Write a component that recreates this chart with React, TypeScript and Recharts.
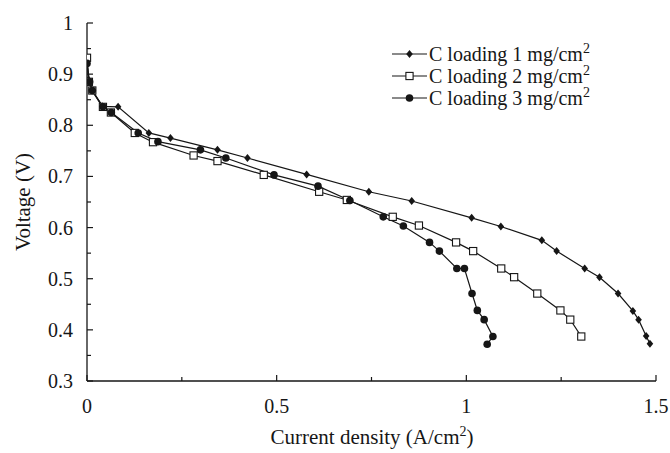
import React from 'react';
import { LineChart, Line, XAxis, YAxis } from 'recharts';

// Polarization curves: current density (A/cm²) vs. cell voltage (V)
const current1 = [0, 0.004, 0.012, 0.04, 0.082, 0.163, 0.22, 0.344, 0.423, 0.579, 0.743, 0.856, 1.014, 1.091, 1.199, 1.238, 1.312, 1.351, 1.4, 1.439, 1.454, 1.474, 1.484];
const voltage1 = [0.925, 0.889, 0.869, 0.837, 0.836, 0.785, 0.775, 0.752, 0.736, 0.704, 0.67, 0.652, 0.619, 0.602, 0.575, 0.554, 0.52, 0.503, 0.471, 0.437, 0.42, 0.388, 0.373];

const current2 = [0, 0.005, 0.014, 0.042, 0.063, 0.126, 0.174, 0.281, 0.344, 0.466, 0.612, 0.685, 0.806, 0.875, 0.973, 1.018, 1.092, 1.126, 1.187, 1.248, 1.274, 1.303];
const voltage2 = [0.932, 0.885, 0.868, 0.836, 0.825, 0.785, 0.767, 0.741, 0.73, 0.703, 0.67, 0.654, 0.621, 0.604, 0.571, 0.554, 0.52, 0.503, 0.471, 0.438, 0.42, 0.387];

const current3 = [0, 0.007, 0.014, 0.042, 0.064, 0.135, 0.187, 0.299, 0.366, 0.493, 0.609, 0.693, 0.781, 0.834, 0.903, 0.929, 0.975, 0.995, 1.015, 1.029, 1.047, 1.07, 1.055];
const voltage3 = [0.921, 0.885, 0.868, 0.836, 0.825, 0.785, 0.768, 0.752, 0.736, 0.703, 0.681, 0.653, 0.621, 0.603, 0.571, 0.554, 0.52, 0.52, 0.471, 0.438, 0.42, 0.387, 0.372];

const xTicks = [0, 0.25, 0.5, 0.75, 1, 1.25, 1.5];
const xLabelTicks = [0, 0.5, 1, 1.5];
const yTicks = [0.3, 0.35, 0.4, 0.45, 0.5, 0.55, 0.6, 0.65, 0.7, 0.75, 0.8, 0.85, 0.9, 0.95, 1];
const yLabelTicks = [0.3, 0.4, 0.5, 0.6, 0.7, 0.8, 0.9, 1];

const seriesNames = ['C loading 1 mg/cm', 'C loading 2 mg/cm', 'C loading 3 mg/cm'];

const toPoints = (xs: number[], ys: number[]) => xs.map((x, i) => ({ x, v: ys[i] }));
const data1 = toPoints(current1, voltage1);
const data2 = toPoints(current2, voltage2);
const data3 = toPoints(current3, voltage3);

const FONT = '"Liberation Serif", "Times New Roman", serif';
const INK = '#161616';
const TICK_FS = 20;
const TITLE_FS = 21;

const DiamondMark = ({ cx, cy }: { cx: number; cy: number }) => (
  <path d={`M${cx},${cy - 4}L${cx + 3.3},${cy}L${cx},${cy + 4}L${cx - 3.3},${cy}Z`} fill={INK} />
);
const SquareMark = ({ cx, cy }: { cx: number; cy: number }) => (
  <rect x={cx - 3.6} y={cy - 3.6} width={7.2} height={7.2} fill="#fff" stroke={INK} strokeWidth={1.1} />
);
const CircleMark = ({ cx, cy }: { cx: number; cy: number }) => (
  <circle cx={cx} cy={cy} r={3.8} fill={INK} />
);

const dotFn = (Mark: any) => (props: any) => {
  const { cx, cy, index } = props;
  if (cx == null || cy == null) return <g key={`d${index}`} />;
  return <Mark key={`d${index}`} cx={cx} cy={cy} />;
};

const isIn = (arr: number[], v: number) => arr.some((a) => Math.abs(a - v) < 1e-6);

const LeftTick = (props: any) => {
  const { x, y, payload } = props;
  const v = payload.value as number;
  const major = isIn(yLabelTicks, v);
  return (
    <g>
      <line x1={x} y1={y} x2={x + (major ? 6 : 4)} y2={y} stroke={INK} strokeWidth={1.2} />
      {major && (
        <text x={x - 14} y={y} textAnchor="end" dominantBaseline="central" fontFamily={FONT} fontSize={TICK_FS} fill={INK}>
          {String(v)}
        </text>
      )}
    </g>
  );
};

const RightTick = (props: any) => {
  const { x, y } = props;
  return <line x1={x} y1={y} x2={x - 3.5} y2={y} stroke={INK} strokeWidth={1.2} />;
};

const BottomTick = (props: any) => {
  const { x, y, payload } = props;
  const v = payload.value as number;
  const major = isIn(xLabelTicks, v);
  return (
    <g>
      <line x1={x} y1={y} x2={x} y2={y - (major ? 6 : 4)} stroke={INK} strokeWidth={1.2} />
      {major && (
        <text x={x} y={y + 32} textAnchor="middle" fontFamily={FONT} fontSize={TICK_FS} fill={INK}>
          {String(v)}
        </text>
      )}
    </g>
  );
};

const legendMarks = [DiamondMark, SquareMark, CircleMark];

export default function App() {
  return (
    <div style={{ position: 'absolute', left: 0, top: 0, width: 670, height: 453, background: '#fff' }}>
      <LineChart width={670} height={453} data={data1} margin={{ top: 23, right: 14, left: 0, bottom: 0 }}>
        <XAxis
          xAxisId="bottom"
          dataKey="x"
          type="number"
          domain={[0, 1.5]}
          ticks={xTicks}
          interval={0}
          height={72}
          tickSize={0}
          tickMargin={0}
          tickLine={false}
          axisLine={{ stroke: INK, strokeWidth: 1.3 }}
          tick={<BottomTick />}
          allowDataOverflow
        />
        <XAxis
          xAxisId="top"
          orientation="top"
          dataKey="x"
          type="number"
          domain={[0, 1.5]}
          height={0}
          tick={false}
          tickLine={false}
          axisLine={{ stroke: INK, strokeWidth: 1.3 }}
        />
        <YAxis
          yAxisId="left"
          type="number"
          domain={[0.3, 1]}
          ticks={yTicks}
          interval={0}
          width={87}
          tickSize={0}
          tickMargin={0}
          tickLine={false}
          axisLine={{ stroke: INK, strokeWidth: 1.3 }}
          tick={<LeftTick />}
          allowDataOverflow
        />
        <YAxis
          yAxisId="right"
          orientation="right"
          type="number"
          domain={[0.3, 1]}
          ticks={yTicks}
          interval={0}
          width={0}
          tickSize={0}
          tickMargin={0}
          tickLine={false}
          axisLine={{ stroke: INK, strokeWidth: 1.3 }}
          tick={<RightTick />}
        />
        <Line
          xAxisId="bottom"
          yAxisId="left"
          data={data1}
          dataKey="v"
          type="linear"
          stroke={INK}
          strokeWidth={1.2}
          dot={dotFn(DiamondMark)}
          activeDot={false}
          isAnimationActive={false}
        />
        <Line
          xAxisId="bottom"
          yAxisId="left"
          data={data2}
          dataKey="v"
          type="linear"
          stroke={INK}
          strokeWidth={1.2}
          dot={dotFn(SquareMark)}
          activeDot={false}
          isAnimationActive={false}
        />
        <Line
          xAxisId="bottom"
          yAxisId="left"
          data={data3}
          dataKey="v"
          type="linear"
          stroke={INK}
          strokeWidth={1.2}
          dot={dotFn(CircleMark)}
          activeDot={false}
          isAnimationActive={false}
        />
      </LineChart>

      {/* axis titles and legend */}
      <svg width={670} height={453} style={{ position: 'absolute', left: 0, top: 0, pointerEvents: 'none' }}>
        <text
          x={30}
          y={202}
          transform="rotate(-90 30 202)"
          textAnchor="middle"
          fontFamily={FONT}
          fontSize={TITLE_FS}
          fill={INK}
        >
          Voltage (V)
        </text>
        <text x={372} y={444} textAnchor="middle" fontFamily={FONT} fontSize={TITLE_FS} fill={INK}>
          <tspan>Current density (A/cm</tspan>
          <tspan dy={-8} fontSize={14}>2</tspan>
          <tspan dy={8}>)</tspan>
        </text>
        {seriesNames.map((name, i) => {
          const cy = 54 + i * 22;
          const Mark = legendMarks[i];
          return (
            <g key={name}>
              <line x1={392} y1={cy} x2={427} y2={cy} stroke={INK} strokeWidth={1.2} />
              <Mark cx={409.5} cy={cy} />
              <text x={429} y={cy + 7} fontFamily={FONT} fontSize={TICK_FS} fill={INK}>
                <tspan>{name}</tspan>
                <tspan dy={-8} fontSize={14}>2</tspan>
              </text>
            </g>
          );
        })}
      </svg>
    </div>
  );
}
